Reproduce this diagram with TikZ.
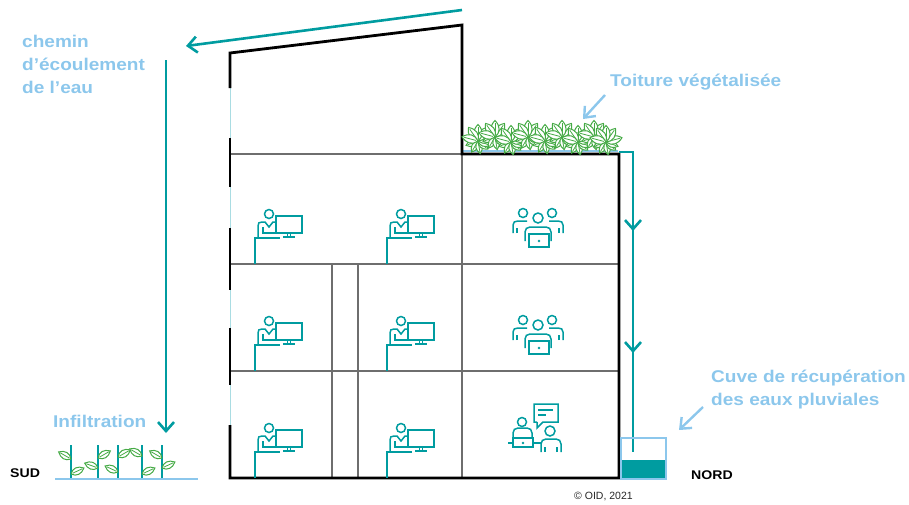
\documentclass[tikz,border=0pt]{standalone}
\usepackage{fontspec}
\setmainfont{Liberation Sans}
\newfontfamily\labfont[FakeStretch=1.12]{Liberation Sans}
\usetikzlibrary{arrows.meta}
\definecolor{flow}{HTML}{009CA0}
\definecolor{note}{HTML}{8CC7EC}
\definecolor{leafgreen}{HTML}{45AA45}
\definecolor{pane}{HTML}{A9DCE2}
\definecolor{partition}{HTML}{6E6E6E}
\begin{document}
\begin{tikzpicture}[x=1pt,y=-1pt,
  wall/.style={line width=2.8pt, black},
  glass/.style={line width=1pt, pane},
  partwall/.style={line width=1.1pt, partition},
  flowline/.style={line width=2.6pt, flow},
  barb/.style={-{Straight Barb[length=9pt,width=16pt]}},
  pointer/.style={line width=2.4pt, note, -{Straight Barb[length=9pt,width=15pt]}},
  notetext/.style={font=\labfont\bfseries\fontsize{17}{23}\selectfont, text=note, inner sep=0pt, anchor=base west, align=left},
  sidetext/.style={font=\labfont\bfseries\fontsize{12.6}{14}\selectfont, inner sep=0pt, anchor=base west},
  icon/.style={line width=1.5pt, flow},
  leaf/.pic={
    \draw[leafgreen, line width=1pt, fill=white]
      (0,0) .. controls (4,-5) and (10,-5) .. (15,0)
            .. controls (10,5) and (4,5) .. (0,0);
    \draw[leafgreen, line width=0.8pt] (2,0) -- (13,0);
  },
  rosette/.pic={
    \foreach \a in {200,240,280,320,340}
      \pic[rotate=\a, scale=0.85] at (0,0) {leaf};
    \foreach \a in {15,55,90,125,165}
      \pic[rotate=\a, scale=1.1] at (0,0) {leaf};
  },
  worker/.pic={
    % desk
    \draw[icon] (0,26) -- (0,0) -- (25,0);
    % person
    \draw[icon] (14,-24) circle[radius=4.5pt];
    \draw[icon] (3,-1) -- (3,-12) .. controls (3,-15) and (4,-16) .. (7,-16)
      -- (10,-16) -- (14,-11) -- (18,-16) -- (21,-16);
    \draw[icon] (8,-11) -- (8,-5) -- (21,-5);
    % screen
    \draw[icon] (21,-22) rectangle (47,-5);
    \draw[icon] (32.5,-5) -- (32.5,-1) (35.5,-5) -- (35.5,-1) (28,-1) -- (40,-1);
  },
  meeting/.pic={
    \draw[icon] (11,5) circle[radius=4.5pt] (40,5) circle[radius=4.5pt];
    \draw[icon] (26,10) circle[radius=5pt];
    \draw[icon] (1,25) -- (1,17) .. controls (1,14) and (3,13) .. (6,13) -- (15,13);
    \draw[icon] (5,25) -- (5,20);
    \draw[icon] (51,25) -- (51,17) .. controls (51,14) and (49,13) .. (46,13) -- (37,13);
    \draw[icon] (47,25) -- (47,20);
    \draw[icon] (13,33) -- (13,24) .. controls (13,21) and (15,19) .. (18,19)
      -- (34,19) .. controls (37,19) and (39,21) .. (39,24) -- (39,33);
    \draw[icon, fill=white] (17,26) rectangle (37,39);
    \fill[flow] (27,33) circle[radius=1.3pt];
  },
  chat/.pic={
    % speech bubble
    \draw[icon, line join=miter] (29,18) -- (26,18) -- (26,0) -- (50,0) -- (50,18) -- (35,18) -- (29,24) -- (29,18);
    \draw[icon] (30,6) -- (45,6) (30,11) -- (38,11);
    % left person at laptop
    \draw[icon] (14,18) circle[radius=4.5pt];
    \draw[icon] (5,34) -- (5,29) .. controls (5,26) and (7,24) .. (10,24)
      -- (19,24) .. controls (22,24) and (24,26) .. (24,29) -- (24,34);
    \draw[icon] (5,34) rectangle (25,43);
    \fill[flow] (15,39) circle[radius=1.3pt];
    \draw[icon] (0,39) -- (5,39) (25,39) -- (33,39);
    % right person
    \draw[icon] (42,27) circle[radius=5pt];
    \draw[icon] (33,48) -- (33,40) .. controls (33,37) and (35,35) .. (38,35)
      -- (48,35) .. controls (51,35) and (53,37) .. (53,40) -- (53,48);
    \draw[icon] (37,48) -- (37,43) (49,48) -- (49,43);
  },
]
\useasboundingbox (0,0) rectangle (909,504);

% ---------- building ----------
\draw[glass] (230,88) -- (230,425);
\draw[partwall] (230,154) -- (462,154);
\draw[partwall] (230,264) -- (619,264);
\draw[partwall] (230,371) -- (619,371);
\draw[partwall] (462,154) -- (462,478);
\draw[partwall] (332,264) -- (332,478);
\draw[partwall] (358,264) -- (358,478);

% green roof strip
\draw[line width=2pt, note] (463,151) -- (618,151);

\draw[wall, line join=miter] (230,88) -- (230,53) -- (462,25) -- (462,154)
  -- (619,154) -- (619,478) -- (230,478) -- (230,425);
\draw[wall] (230,138) -- (230,187);
\draw[wall] (230,228) -- (230,290);
\draw[wall] (230,328) -- (230,385);

% vegetation on the roof
\foreach \x/\y in {478/141, 495/137, 511/142, 528/137, 545/141, 562/137, 578/142, 594/137, 606/142}
  \pic at (\x,\y) {rosette};

% ---------- occupants ----------
\pic at (255,238) {worker};
\pic at (387,238) {worker};
\pic at (255,345) {worker};
\pic at (387,345) {worker};
\pic at (255,452) {worker};
\pic at (387,452) {worker};
\pic at (512,208) {meeting};
\pic at (512,315) {meeting};
\pic at (508,404) {chat};

% ---------- water path ----------
\coordinate (roofstart) at (462,10);
\coordinate (roofend) at (186,46);
\coordinate (fallstart) at (166,60);
\coordinate (fallend) at (166,433);
\draw[flowline, barb] (roofstart) -- (roofend);
\draw[flowline, barb] (fallstart) -- (fallend);

% downpipe into the tank
\coordinate (gutter) at (619,152);
\coordinate (pipetop) at (633,152);
\coordinate (pipebottom) at (633,452);
\coordinate (mark1) at (633,231);
\coordinate (mark2) at (633,353);
\draw[flowline, line join=miter] (gutter) -- (pipetop) -- (pipebottom);
\draw[flowline, barb] (pipetop) -- (mark1);
\draw[flowline, barb] (pipetop) -- (mark2);

% rainwater tank
\fill[flow] (621,460) rectangle (666,478.5);
\draw[line width=1.8pt, note] (621,438) rectangle (666,479);

% ---------- infiltration bed ----------
\draw[line width=2.4pt, note] (55,479) -- (198,479);
\foreach \x in {71,98,118,142,162}
  \draw[line width=2pt, flow] (\x,445) -- (\x,478);
\pic[rotate=150, scale=0.95] at (71,459) {leaf};
\pic[rotate=25, scale=0.95] at (71,474) {leaf};
\pic[rotate=30, scale=0.95] at (98,458) {leaf};
\pic[rotate=160, scale=0.95] at (98,468) {leaf};
\pic[rotate=30, scale=0.95] at (118,457) {leaf};
\pic[rotate=155, scale=0.95] at (118,472) {leaf};
\pic[rotate=150, scale=0.95] at (142,456) {leaf};
\pic[rotate=25, scale=0.95] at (142,474) {leaf};
\pic[rotate=150, scale=0.95] at (162,458) {leaf};
\pic[rotate=25, scale=0.95] at (162,468) {leaf};

% ---------- labels ----------
\node[notetext] (path) at (22,93) {chemin\\d’écoulement\\de l’eau};
\node[notetext] (roofnote) at (610,86) {Toiture végétalisée};
\node[notetext] (infil) at (53,427) {Infiltration};
\node[notetext] (tanknote) at (711,405) {Cuve de récupération\\des eaux pluviales};
\node[sidetext] (south) at (10,477) {SUD};
\node[sidetext] (north) at (691,479) {NORD};
\node[inner sep=0pt, anchor=base west, font=\fontsize{10.5}{12}\selectfont, text=black!85] (credit) at (574,499) {© OID, 2021};

% pointers
\coordinate (p1s) at (605,95);
\coordinate (p1e) at (583,119);
\coordinate (p2s) at (703,407);
\coordinate (p2e) at (679,430);
\draw[pointer] (p1s) -- (p1e);
\draw[pointer] (p2s) -- (p2e);
\end{tikzpicture}
\end{document}
